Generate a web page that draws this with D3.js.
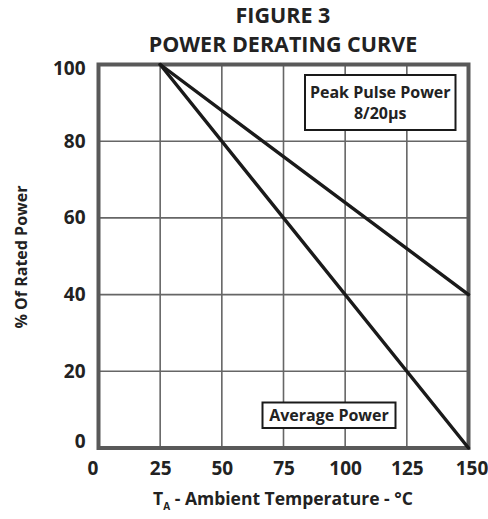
<!DOCTYPE html>
<html>
<head>
<meta charset="utf-8">
<script src="https://cdn.jsdelivr.net/npm/d3@7/dist/d3.min.js"></script>
<style>
  html, body { margin: 0; padding: 0; background: #fff; }
  svg text { font-family: "Open Sans", "DejaVu Sans", sans-serif; font-weight: 700; fill: #222; }
</style>
</head>
<body>
<svg id="chart" width="488" height="519"></svg>
<script>
// ---- data ----
const xTicks = [0, 25, 50, 75, 100, 125, 150];
const yTicks = [0, 20, 40, 60, 80, 100];
const peakPulseT = [0, 25, 150];
const peakPulseP = [100, 100, 40];
const averageT = [0, 25, 150];
const averageP = [100, 100, 0];
const titleLines = ["FIGURE 3", "POWER DERATING CURVE"];
const xLabel = ["T", "A", " - Ambient Temperature - °C"];
const yLabel = "% Of Rated Power";
const legendPeak = ["Peak Pulse Power", "8/20µs"];
const legendAvg = "Average Power";

// ---- layout ----
const svg = d3.select("#chart");
const x = d3.scaleLinear().domain([0, 150]).range([98.5, 468.5]);
const y = d3.scaleLinear().domain([0, 100]).range([448, 64.5]);

// grid
const grid = svg.append("g");
grid.selectAll("line.gx").data(xTicks.slice(1, -1)).enter().append("line")
  .attr("x1", d => x(d)).attr("x2", d => x(d))
  .attr("y1", y(0)).attr("y2", y(100))
  .attr("stroke", "#666").attr("stroke-width", 1.6);
grid.selectAll("line.gy").data(yTicks.slice(1, -1)).enter().append("line")
  .attr("x1", x(0)).attr("x2", x(150))
  .attr("y1", d => y(d)).attr("y2", d => y(d))
  .attr("stroke", "#666").attr("stroke-width", 1.6);

// frame
svg.append("rect")
  .attr("x", x(0)).attr("y", y(100))
  .attr("width", x(150) - x(0)).attr("height", y(0) - y(100))
  .attr("fill", "none").attr("stroke", "#595959").attr("stroke-width", 4);

// axes (labels only)
const xAxis = d3.axisBottom(x).tickValues(xTicks).tickSize(0).tickPadding(0);
const gx = svg.append("g").attr("transform", `translate(0,${y(0)})`).call(xAxis);
gx.select(".domain").remove();
gx.selectAll("text").attr("y", 14).attr("dy", "0.71em")
  .style("font-size", "19px").style("font-family", "'Open Sans', sans-serif").style("font-weight", 700).attr("fill", "#222");
gx.selectAll(".tick").filter(d => d === 0).select("text").attr("dx", -6);
gx.selectAll(".tick").filter(d => d === 150).select("text").attr("dx", 3);

const yAxis = d3.axisLeft(y).tickValues(yTicks).tickSize(0).tickPadding(0);
const gy = svg.append("g").attr("transform", `translate(${x(0)},0)`).call(yAxis);
gy.select(".domain").remove();
gy.selectAll("text").attr("x", -13)
  .style("font-size", "19px").style("font-family", "'Open Sans', sans-serif").style("font-weight", 700).attr("fill", "#222");
gy.selectAll(".tick").filter(d => d === 0).select("text").attr("dy", "-0.05em");
gy.selectAll(".tick").filter(d => d === 100).select("text").attr("dy", "0.55em");

// curves
const line = d3.line().x(d => x(d[0])).y(d => y(d[1]));
const series = [
  d3.zip(peakPulseT, peakPulseP),
  d3.zip(averageT, averageP)
];
svg.selectAll("path.curve").data(series).enter().append("path")
  .attr("class", "curve")
  .attr("d", d => line(d.slice(1)))
  .attr("fill", "none").attr("stroke", "#1a1a1a").attr("stroke-width", 3.4)
  .attr("stroke-linecap", "round");

// legend boxes
const lp = svg.append("g");
lp.append("rect").attr("x", 305).attr("y", 75).attr("width", 150.5).attr("height", 55)
  .attr("fill", "#fff").attr("stroke", "#1a1a1a").attr("stroke-width", 2);
lp.selectAll("text").data(legendPeak).enter().append("text")
  .attr("x", 380.25).attr("y", (d, i) => 97.5 + i * 21)
  .attr("text-anchor", "middle").style("font-size", "16px").text(d => d);

const la = svg.append("g");
la.append("rect").attr("x", 262.5).attr("y", 402.5).attr("width", 133).attr("height", 25.5)
  .attr("fill", "#fff").attr("stroke", "#1a1a1a").attr("stroke-width", 2);
la.append("text").attr("x", 329).attr("y", 421)
  .attr("text-anchor", "middle").style("font-size", "16px").text(legendAvg);

// title
svg.selectAll("text.title").data(titleLines).enter().append("text")
  .attr("class", "title")
  .attr("x", 283).attr("y", (d, i) => 23 + i * 29)
  .attr("text-anchor", "middle").style("font-size", "21.5px").text(d => d);

// x label
const xl = svg.append("text").attr("x", 283).attr("y", 505)
  .attr("text-anchor", "middle").style("font-size", "17.5px");
xl.append("tspan").text(xLabel[0]);
xl.append("tspan").attr("dy", 5).style("font-size", "10px").text(xLabel[1]);
xl.append("tspan").attr("dy", -5).text(xLabel[2]);

// y label
svg.append("text")
  .attr("transform", `translate(27,257) rotate(-90)`)
  .attr("text-anchor", "middle").style("font-size", "16px").text(yLabel);
</script>
</body>
</html>
